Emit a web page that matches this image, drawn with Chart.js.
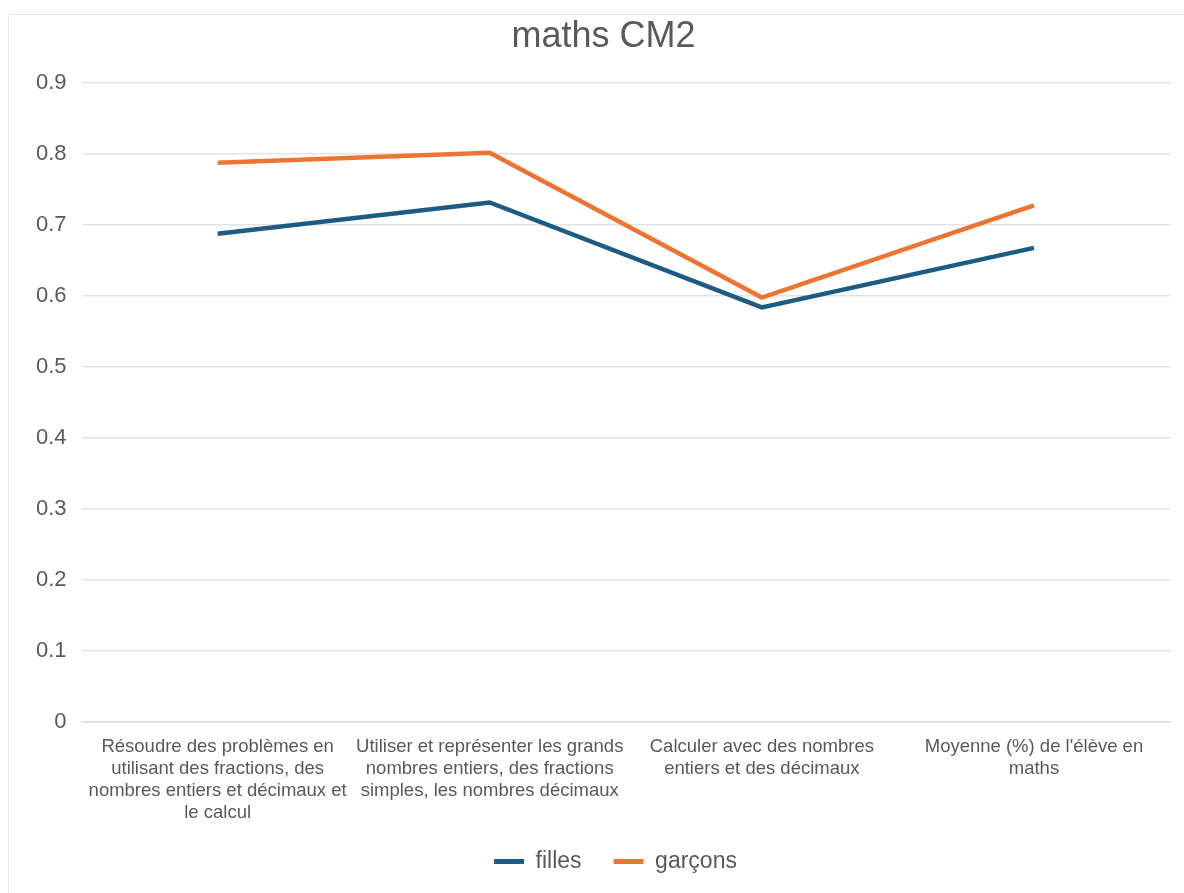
<!DOCTYPE html>
<html lang="fr">
<head>
  <meta charset="UTF-8">
  <title>maths CM2</title>
  <style>
    body { margin: 0; background: #fff; }
    #wrap { position: absolute; left: 8px; top: 14px; width: 1176px; height: 879px; border: 1px solid #e6e6e6; border-right: none; border-bottom: none; box-sizing: border-box; }
  </style>
  <script type="text/javascript" src="https://cdn.jsdelivr.net/npm/chart.js@4/dist/chart.umd.min.js"></script>
</head>
<body>
  <div id="wrap"><canvas id="chart"></canvas></div>
  <script type="text/javascript">
    var categories = [
      ['Résoudre des problèmes en', 'utilisant des fractions, des', 'nombres entiers et décimaux et', 'le calcul'],
      ['Utiliser et représenter les grands', 'nombres entiers, des fractions', 'simples, les nombres décimaux'],
      ['Calculer avec des nombres', 'entiers et des décimaux'],
      ['Moyenne (%) de l\'élève en', 'maths']
    ]
    var filles = [0.688, 0.732, 0.584, 0.668]
    var garcons = [0.788, 0.802, 0.598, 0.728]
    var yTicks = [0, 0.1, 0.2, 0.3, 0.4, 0.5, 0.6, 0.7, 0.8, 0.9]

    // nudge title and legend a bit right, like the original layout
    var shiftPlugin = {
      id: 'shift',
      afterLayout: function (chart) {
        chart.titleBlock.left += 8
        chart.titleBlock.right += 8
        chart.legend.left += 20
        chart.legend.right += 20
      }
    }

    var ctx = document.getElementById('chart').getContext('2d')
    var chart = new Chart(ctx, {
      type: 'line',
      data: {
        labels: categories,
        datasets: [{
          label: 'filles',
          data: filles,
          borderColor: '#1d5b82',
          backgroundColor: '#1d5b82',
          borderWidth: 4.5,
          pointRadius: 0,
          tension: 0,
          fill: false
        }, {
          label: 'garçons',
          data: garcons,
          borderColor: '#ee7434',
          backgroundColor: '#ee7434',
          borderWidth: 4.5,
          pointRadius: 0,
          tension: 0,
          fill: false
        }]
      },
      plugins: [shiftPlugin],
      options: {
        animation: false,
        responsive: true,
        maintainAspectRatio: false,
        layout: { padding: { left: 12, right: 14, top: 0, bottom: 10 } },
        plugins: {
          title: {
            display: true,
            text: 'maths CM2',
            color: '#595959',
            font: { family: 'Liberation Sans', size: 36, weight: 'normal' },
            padding: { top: 0, bottom: 25 }
          },
          legend: {
            position: 'bottom',
            labels: {
              color: '#595959',
              font: { family: 'Liberation Sans', size: 23 },
              boxWidth: 30,
              boxHeight: 5,
              padding: 32,
              generateLabels: function (chart) {
                var items = Chart.defaults.plugins.legend.labels.generateLabels(chart)
                items.forEach(function (it) { it.lineWidth = 0 })
                return items
              }
            }
          },
          tooltip: { enabled: false }
        },
        scales: {
          x: {
            offset: true,
            grid: { display: false },
            border: { color: '#dcdcdc', width: 1.5 },
            afterFit: function (axis) { axis.height -= 12 },
            ticks: {
              color: '#595959',
              maxRotation: 0,
              autoSkip: false,
              padding: 6,
              font: { family: 'Liberation Sans', size: 18.5, lineHeight: 1.19 }
            }
          },
          y: {
            min: 0,
            max: 0.9,
            afterBuildTicks: function (axis) {
              axis.ticks = yTicks.map(function (v) { return { value: v } })
            },
            grid: { color: '#e3e3e3', drawTicks: false, lineWidth: 1.5 },
            border: { display: false },
            ticks: {
              color: '#595959',
              padding: 15,
              font: { family: 'Liberation Sans', size: 22, lineHeight: 0.6 },
              callback: function (v) { return String(+v.toFixed(1)) }
            }
          }
        }
      }
    })
  </script>
</body>
</html>
